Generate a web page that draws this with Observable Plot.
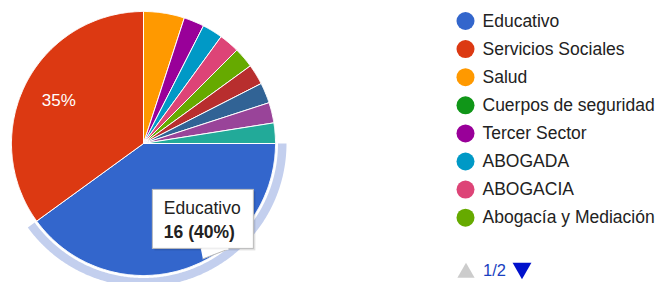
<!DOCTYPE html>
<html><head><meta charset="utf-8">
<script src="https://cdn.jsdelivr.net/npm/d3@7"></script>
<script src="https://cdn.jsdelivr.net/npm/@observablehq/plot@0.6"></script>
<style>body{margin:0;background:#fff;}</style>
</head><body><div id="chart"></div>
<script>
// ---- data ----
const categories = ["Educativo","Servicios Sociales","Salud","Cuerpos de seguridad","Tercer Sector","ABOGADA","ABOGACIA","Abogacía y Mediación","Otros 9","Otros 10","Otros 11","Otros 12"];
const values = [16,14,2,0,1,1,1,1,1,1,1,1];
const colors = ["#3366cc","#dc3912","#ff9900","#109618","#990099","#0099c6","#dd4477","#66aa00","#b82e2e","#316395","#994499","#22aa99"];
const legendPageLabel = "1/2";
const legendPageSize = 8;
const highlighted = "Educativo";

// ---- layout ----
const W = 659, H = 282;
const cx = 143, cy = 143, R = 132;
const font = "'Liberation Sans', Arial, sans-serif";
const total = d3.sum(values);
const arcs = d3.pie().value(d => d).sort(null)
  .startAngle(Math.PI / 2).endAngle(Math.PI / 2 + 2 * Math.PI)(values);
const pt = (a, r) => [cx + r * Math.sin(a), cy - r * Math.cos(a)];
function arcPts(a0, a1, r) {
  const n = Math.max(2, Math.ceil((a1 - a0) / (Math.PI / 360)));
  const out = [];
  for (let i = 0; i <= n; i++) out.push(pt(a0 + (a1 - a0) * i / n, r));
  return out;
}
const slicePts = [];
arcs.forEach((a, i) => {
  if (a.value <= 0) return;
  const name = categories[i];
  [[cx, cy], ...arcPts(a.startAngle, a.endAngle, R), [cx, cy]]
    .forEach(([x, y]) => slicePts.push({name, x, y}));
});
const hi = arcs[categories.indexOf(highlighted)];
const ringPts = [...arcPts(hi.startAngle, hi.endAngle, 143), ...arcPts(hi.startAngle, hi.endAngle, 134.5).reverse()]
  .map(([x, y]) => ({x, y}));
ringPts.push(ringPts[0]);

const labels = arcs.map((a, i) => {
  const m = (a.startAngle + a.endAngle) / 2;
  const [x, y] = pt(m, 0.72 * R);
  return {name: categories[i], v: a.value, x, y, text: Math.round(a.value / total * 100) + "%"};
}).filter(d => d.v / total >= 0.1);

// the highlighted slice's own label is hidden under its tooltip
const hl = labels.find(d => d.name === highlighted);
const visibleLabels = labels.filter(d => d.name !== highlighted);
const tip = {x1: hl.x - 20, x2: hl.x + 81, y1: hl.y - 44, y2: hl.y + 15};
const tail = [[tip.x1 + 48, tip.y2], [tip.x1 + 76, tip.y2], [tip.x1 + 50, tip.y2 + 10]].map(([x, y]) => ({x, y}));
const tipTitle = [{text: highlighted, x: tip.x1 + 11, y: tip.y1 + 19}];
const tipValue = [{text: `${values[categories.indexOf(highlighted)]} (${Math.round(hi.value / total * 100)}%)`, x: tip.x1 + 11, y: tip.y1 + 42.5}];

const legend = categories.slice(0, legendPageSize).map((name, i) => ({name, x: 465, y: 20.5 + i * 28.1}));
const pagerY = 20.5 + legendPageSize * 28.1 + 25;

const chart = Plot.plot({
  width: W, height: H,
  marginTop: 0, marginRight: 0, marginBottom: 0, marginLeft: 0,
  x: {domain: [0, W], range: [0, W], axis: null},
  y: {domain: [0, H], range: [0, H], axis: null},
  color: {domain: categories, range: colors},
  style: {background: "white", fontFamily: font},
  marks: [
    Plot.line(ringPts, {x: "x", y: "y", fill: "#c3cfee", stroke: "none", curve: "linear"}),
    Plot.line(slicePts, {x: "x", y: "y", z: "name", fill: "name", stroke: "white", strokeWidth: 1, strokeLinejoin: "round", curve: "linear"}),
    Plot.text(visibleLabels, {x: "x", y: "y", text: "text", fill: "white", fontSize: 17, textAnchor: "middle", lineAnchor: "middle"}),
    // tooltip
    Plot.rect([tip], {x1: d => d.x1 + 2, x2: d => d.x2 + 2, y1: d => d.y1 + 2, y2: d => d.y2 + 2, fill: "black", fillOpacity: 0.12}),
    Plot.line(tail, {x: "x", y: "y", fill: "white", stroke: "#bbb", strokeWidth: 1, curve: "linear"}),
    Plot.rect([tip], {x1: "x1", x2: "x2", y1: "y1", y2: "y2", fill: "white", stroke: "#bbb", strokeWidth: 1}),
    Plot.line([tail[0], tail[1]], {x: d => d.x + (d === tail[0] ? 1 : -1), y: "y", stroke: "white", strokeWidth: 1.5}),
    Plot.text(tipTitle, {x: "x", y: "y", text: "text", fill: "#222", fontSize: 17.5, textAnchor: "start", lineAnchor: "middle"}),
    Plot.text(tipValue, {x: "x", y: "y", text: "text", fill: "#222", fontSize: 17.5, fontWeight: "bold", textAnchor: "start", lineAnchor: "middle"}),
    // legend
    Plot.dot(legend, {x: "x", y: "y", r: 9, fill: "name", stroke: "none"}),
    Plot.text(legend, {x: d => d.x + 17, y: "y", text: "name", fill: "#222", fontSize: 17.5, textAnchor: "start", lineAnchor: "middle"}),
    // pager
    Plot.dot([{x: 465.5, y: pagerY + 2}], {x: "x", y: "y", symbol: "triangle", r: 6.4, fill: "#cccccc", stroke: "none"}),
    Plot.text([{x: 482.5, y: pagerY}], {x: "x", y: "y", text: () => legendPageLabel, fill: "#1a3fc0", fontSize: 16.5, textAnchor: "start", lineAnchor: "middle"}),
    Plot.dot([{x: 521.5, y: pagerY - 2.5}], {x: "x", y: "y", symbol: "triangle", r: 7, rotate: 180, fill: "#0011cc", stroke: "none"})
  ]
});
document.getElementById("chart").appendChild(chart);
</script>
</body></html>
